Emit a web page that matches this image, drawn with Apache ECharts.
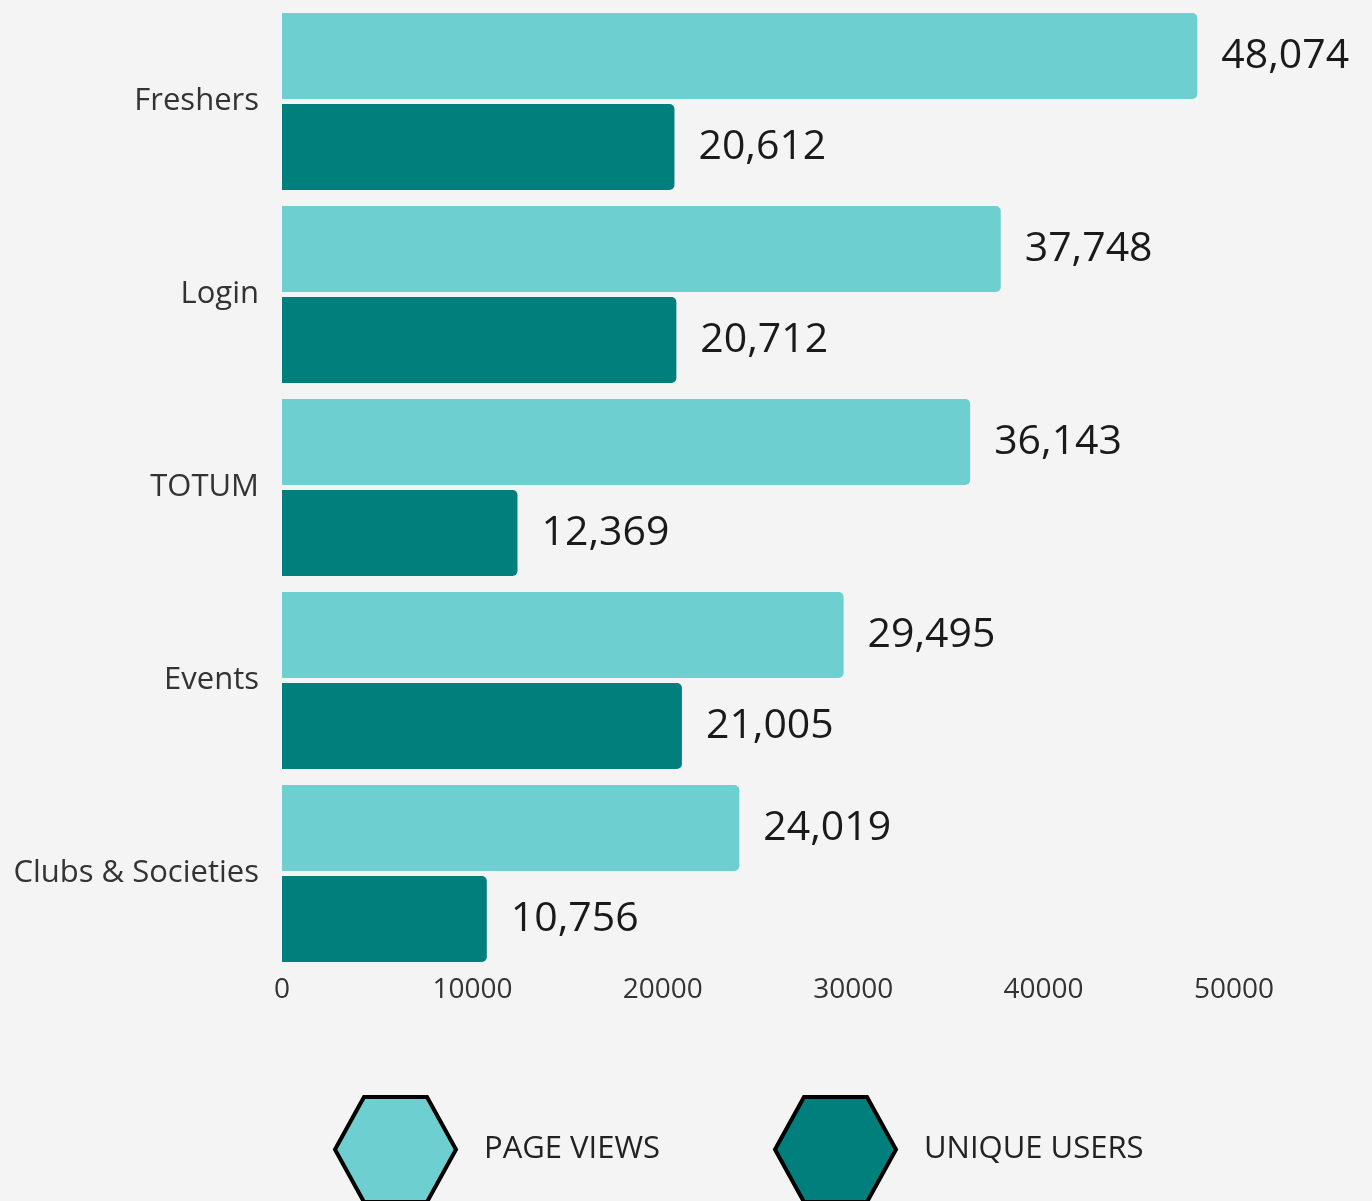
<!DOCTYPE html>
<html>
<head>
<meta charset="utf-8">
<script src="https://cdn.jsdelivr.net/npm/echarts@6/dist/echarts.min.js"></script>
<style>
html,body{margin:0;padding:0;background:#f4f4f4;}
#chart{width:1372px;height:1201px;}
</style>
</head>
<body>
<div id="chart"></div>
<script>
const categories = ['Freshers', 'Login', 'TOTUM', 'Events', 'Clubs & Societies'];
const pageViews = [48074, 37748, 36143, 29495, 24019];
const uniqueUsers = [20612, 20712, 12369, 21005, 10756];
const seriesNames = ['PAGE VIEWS', 'UNIQUE USERS'];

const FONT = '"Open Sans", sans-serif';
const hex = 'path://M0 52.5 L29 0 L92 0 L121 52.5 L92 105 L29 105 Z';
const fmt = v => v.toLocaleString('en-US');

const legendCommon = {
  top: 1095, padding: 0, itemWidth: 121, itemHeight: 105, selectedMode: false,
  itemStyle: { borderColor: '#000', borderWidth: 4 },
  textStyle: { color: '#222', fontFamily: FONT, fontSize: 31, padding: [0, 0, 0, 23] }
};

const chart = echarts.init(document.getElementById('chart'));
chart.setOption({
  backgroundColor: '#f4f4f4',
  animation: false,
  grid: { left: 282, right: 138, top: 5, bottom: 231 },
  xAxis: {
    type: 'value', min: 0, max: 50000, interval: 10000,
    axisLine: { show: false }, axisTick: { show: false }, splitLine: { show: false },
    axisLabel: { color: '#333', fontFamily: FONT, fontSize: 28, margin: 6, formatter: v => String(v) }
  },
  yAxis: {
    type: 'category', data: categories, inverse: true,
    axisLine: { show: false }, axisTick: { show: false },
    axisLabel: { color: '#333', fontFamily: FONT, fontSize: 31, margin: 23 }
  },
  legend: [
    Object.assign({ left: 333, data: [{ name: seriesNames[0], icon: hex }] }, legendCommon),
    Object.assign({ left: 773, data: [{ name: seriesNames[1], icon: hex }] }, legendCommon)
  ],
  series: [
    {
      name: seriesNames[0], type: 'bar', data: pageViews,
      barWidth: 86, barGap: '6%',
      itemStyle: { color: '#6dcfcf', borderRadius: [0, 5, 5, 0] },
      emphasis: { disabled: true },
      label: { show: true, position: 'right', distance: 24, color: '#1a1a1a', fontFamily: FONT, fontSize: 41,
        formatter: p => fmt(p.value) }
    },
    {
      name: seriesNames[1], type: 'bar', data: uniqueUsers,
      barWidth: 86,
      itemStyle: { color: '#007f7d', borderRadius: [0, 5, 5, 0] },
      emphasis: { disabled: true },
      label: { show: true, position: 'right', distance: 24, color: '#1a1a1a', fontFamily: FONT, fontSize: 41,
        formatter: p => fmt(p.value) }
    }
  ]
});
</script>
</body>
</html>
